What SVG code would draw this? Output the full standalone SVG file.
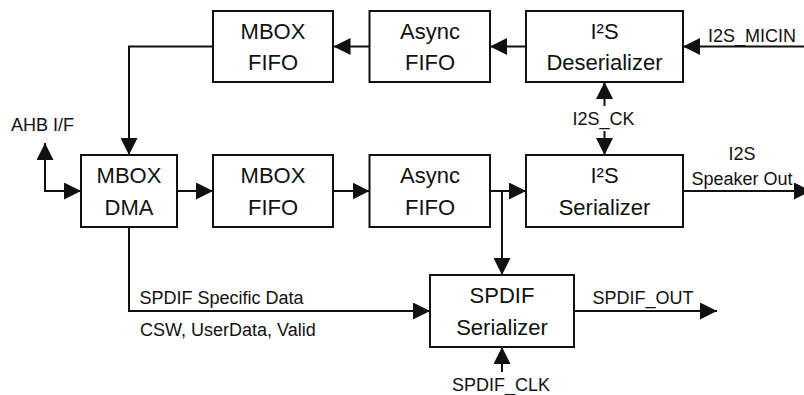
<svg xmlns="http://www.w3.org/2000/svg" width="804" height="395" viewBox="0 0 804 395">
<style>
.box{fill:#fff;stroke:#111;stroke-width:2}
.bt{font-family:"Liberation Sans",Arial,sans-serif;font-size:22px;fill:#111;text-anchor:middle}
.lt{font-family:"Liberation Sans",Arial,sans-serif;font-size:18px;fill:#111}
.c{text-anchor:middle}
.ln{fill:none;stroke:#111;stroke-width:2}
</style>
<defs>
<marker id="ah" markerUnits="userSpaceOnUse" markerWidth="17" markerHeight="17" refX="17" refY="8.5" orient="auto">
<path d="M0,0 L17,8.5 L0,17 z" fill="#111"/>
</marker>
</defs>
<rect width="804" height="395" fill="#fff"/>
<g id="connectors">
<path class="ln" d="M213,46.5 H129 V155" marker-end="url(#ah)"/>
<path class="ln" d="M369.5,46.5 H333.5" marker-end="url(#ah)"/>
<path class="ln" d="M526,46.5 H490" marker-end="url(#ah)"/>
<path class="ln" d="M804,46.5 H683" marker-end="url(#ah)"/>
<path class="ln" d="M604.5,106 V82" marker-end="url(#ah)"/>
<path class="ln" d="M604.5,131 V155" marker-end="url(#ah)"/>
<path class="ln" d="M45,191 V143" marker-end="url(#ah)"/>
<path class="ln" d="M44,191 H81" marker-end="url(#ah)"/>
<path class="ln" d="M177,191 H213" marker-end="url(#ah)"/>
<path class="ln" d="M333,191 H369.5" marker-end="url(#ah)"/>
<path class="ln" d="M490,191 H526" marker-end="url(#ah)"/>
<path class="ln" d="M502,191 V275" marker-end="url(#ah)"/>
<path class="ln" d="M683,191 H811" marker-end="url(#ah)"/>
<path class="ln" d="M129,227 V311 H430" marker-end="url(#ah)"/>
<path class="ln" d="M574,311 H717" marker-end="url(#ah)"/>
<path class="ln" d="M502,372 V347" marker-end="url(#ah)"/>
</g>
<g id="mbox-fifo-top">
<rect class="box" x="213" y="11" width="120" height="71"/>
<text class="bt" x="273" y="38.5">MBOX</text>
<text class="bt" x="273" y="70">FIFO</text>
</g>
<g id="async-fifo-top">
<rect class="box" x="369.5" y="11" width="120.5" height="71"/>
<text class="bt" x="430" y="38.5">Async</text>
<text class="bt" x="430" y="70">FIFO</text>
</g>
<g id="i2s-deserializer">
<rect class="box" x="526" y="11" width="157" height="71"/>
<text class="bt" x="604.5" y="38.5">I²S</text>
<text class="bt" x="604.5" y="70">Deserializer</text>
</g>
<g id="mbox-dma">
<rect class="box" x="81" y="155" width="96" height="72"/>
<text class="bt" x="129" y="183">MBOX</text>
<text class="bt" x="129" y="215">DMA</text>
</g>
<g id="mbox-fifo-mid">
<rect class="box" x="213" y="155" width="120" height="72"/>
<text class="bt" x="273" y="183">MBOX</text>
<text class="bt" x="273" y="215">FIFO</text>
</g>
<g id="async-fifo-mid">
<rect class="box" x="369.5" y="155" width="120.5" height="72"/>
<text class="bt" x="430" y="183">Async</text>
<text class="bt" x="430" y="215">FIFO</text>
</g>
<g id="i2s-serializer">
<rect class="box" x="526" y="155" width="157" height="72"/>
<text class="bt" x="604.5" y="183">I²S</text>
<text class="bt" x="604.5" y="215">Serializer</text>
</g>
<g id="spdif-serializer">
<rect class="box" x="430" y="275" width="144" height="72"/>
<text class="bt" x="502" y="303">SPDIF</text>
<text class="bt" x="502" y="335">Serializer</text>
</g>
<g id="labels">
<text class="lt c" x="752" y="41.5">I2S_MICIN</text>
<text class="lt c" x="603.5" y="124.5">I2S_CK</text>
<text class="lt" x="11" y="131">AHB I/F</text>
<text class="lt c" x="742" y="159.5">I2S</text>
<text class="lt c" x="742" y="185">Speaker Out</text>
<text class="lt" x="139.5" y="304">SPDIF Specific Data</text>
<text class="lt" x="140" y="336">CSW, UserData, Valid</text>
<text class="lt c" x="643" y="304">SPDIF_OUT</text>
<text class="lt c" x="501" y="391">SPDIF_CLK</text>
</g>
</svg>
